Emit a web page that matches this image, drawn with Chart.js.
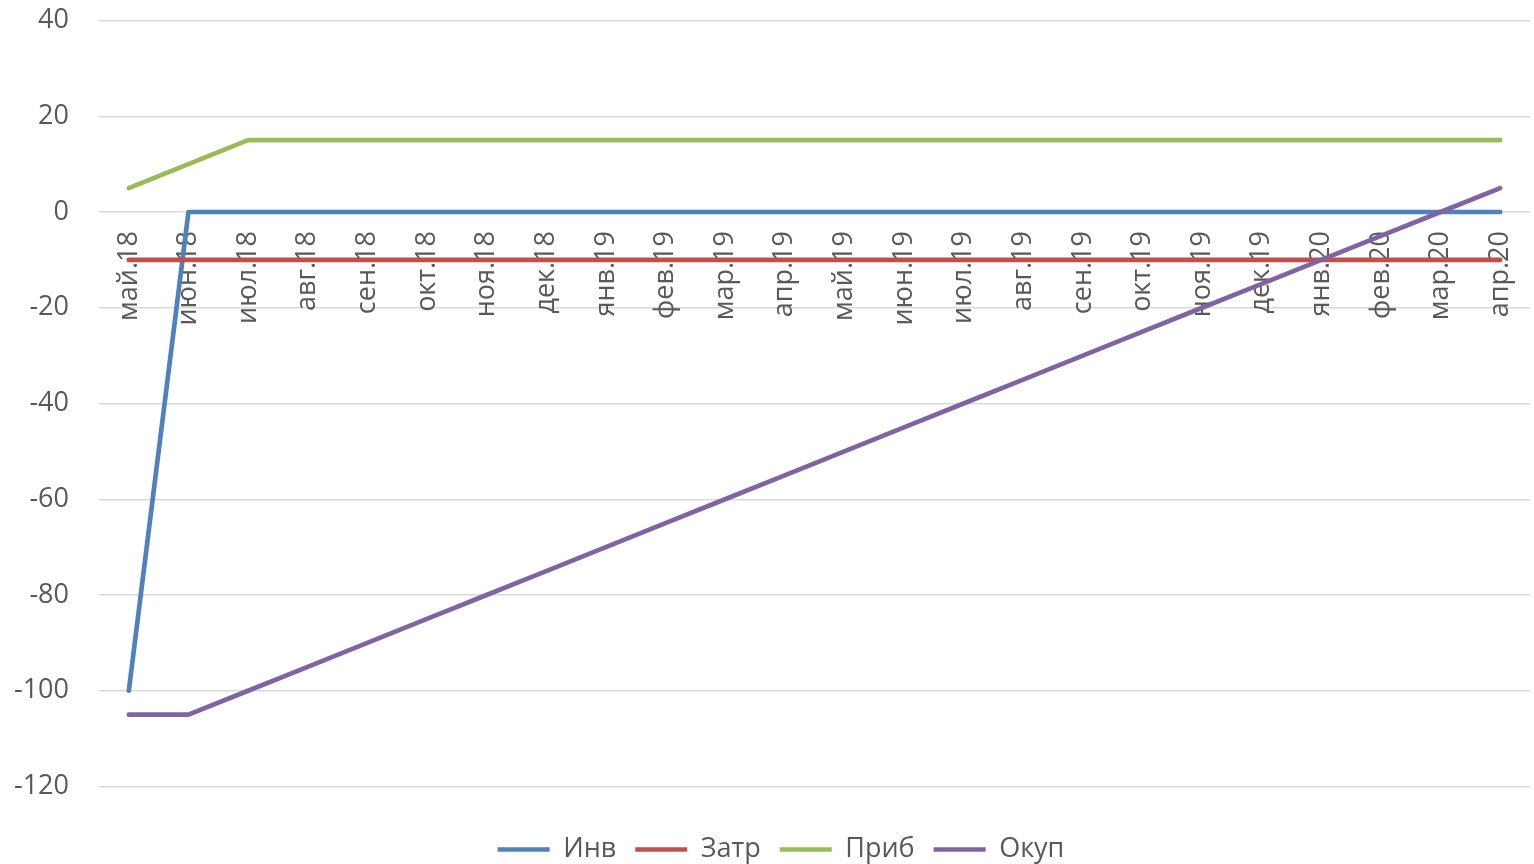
<!DOCTYPE html>
<html>
<head>
<meta charset="utf-8">
<script src="https://cdn.jsdelivr.net/npm/chart.js@4/dist/chart.umd.min.js"></script>
<style>
  html, body { margin: 0; padding: 0; background: #ffffff; }
  #wrap { width: 1534px; height: 864px; }
</style>
</head>
<body>
<div id="wrap"><canvas id="c" width="1534" height="864"></canvas></div>
<script>
// Months of the payback period
const months = ['май.18','июн.18','июл.18','авг.18','сен.18','окт.18','ноя.18','дек.18',
  'янв.19','фев.19','мар.19','апр.19','май.19','июн.19','июл.19','авг.19','сен.19','окт.19',
  'ноя.19','дек.19','янв.20','фев.20','мар.20','апр.20'];

// Investments, costs, profit and cumulative payback per month
const inv    = [-100, 0, 0, 0, 0, 0, 0, 0, 0, 0, 0, 0, 0, 0, 0, 0, 0, 0, 0, 0, 0, 0, 0, 0];
const costs  = [-10, -10, -10, -10, -10, -10, -10, -10, -10, -10, -10, -10, -10, -10, -10, -10, -10, -10, -10, -10, -10, -10, -10, -10];
const profit = [5, 10, 15, 15, 15, 15, 15, 15, 15, 15, 15, 15, 15, 15, 15, 15, 15, 15, 15, 15, 15, 15, 15, 15];
const payback = [-105, -105, -100, -95, -90, -85, -80, -75, -70, -65, -60, -55, -50, -45, -40, -35, -30, -25, -20, -15, -10, -5, 0, 5];

const seriesNames = ['Инв', 'Затр', 'Приб', 'Окуп'];
const yTicks = [40, 20, 0, -20, -40, -60, -80, -100, -120];

const FONT = "'Open Sans', 'Noto Sans', sans-serif";
const TEXT = '#595959';

function line(label, data, color, order) {
  return {
    label, data, order,
    borderColor: color,
    backgroundColor: color,
    borderWidth: 4.7,
    borderCapStyle: 'round',
    borderJoinStyle: 'round',
    pointRadius: 0,
    pointHoverRadius: 0,
    tension: 0,
    fill: false
  };
}

new Chart(document.getElementById('c'), {
  type: 'line',
  data: {
    labels: months,
    datasets: [
      line(seriesNames[0], inv, '#4F81BD', 4),
      line(seriesNames[1], costs, '#C0504D', 3),
      line(seriesNames[2], profit, '#9BBB59', 2),
      line(seriesNames[3], payback, '#8064A2', 1)
    ]
  },
  options: {
    responsive: false,
    animation: false,
    events: [],
    // legend spans a slightly wider band than the canvas so it sits right of centre
    layout: { padding: { left: 0, right: -28, top: 20.5, bottom: -9 } },
    plugins: {
      tooltip: { enabled: false },
      legend: {
        position: 'bottom',
        // empty title only reserves the gap between plot and legend
        title: { display: true, text: '', font: { size: 1 }, padding: { top: 29.3, bottom: 0 } },
        labels: {
          usePointStyle: true,
          pointStyle: 'line',
          pointStyleWidth: 52,
          padding: 19,
          color: TEXT,
          font: { family: FONT, size: 27 },
          sort: (a, b) => a.datasetIndex - b.datasetIndex
        }
      }
    },
    scales: {
      x: {
        position: { y: 0 },
        offset: true,
        grid: { display: false },
        border: { display: false },
        ticks: {
          autoSkip: false,
          minRotation: 90,
          maxRotation: 90,
          padding: 11,
          color: TEXT,
          font: { family: FONT, size: 27 }
        },
        afterFit(scale) {
          scale.height = 0;
          scale.paddingLeft = 0;
          scale.paddingRight = 4;
        }
      },
      y: {
        min: yTicks[yTicks.length - 1],
        max: yTicks[0],
        border: { display: false },
        grid: { color: '#D9D9D9', lineWidth: 1.5, drawTicks: false },
        afterBuildTicks(scale) {
          scale.ticks = yTicks.slice().reverse().map(v => ({ value: v }));
        },
        ticks: {
          padding: 30,
          color: TEXT,
          font: { family: FONT, size: 27 },
          callback: (v) => String(v)
        },
        afterFit(scale) {
          scale.width = 99;
          scale.paddingTop = 0;
          scale.paddingBottom = 0;
        }
      }
    }
  }
});
</script>
</body>
</html>
